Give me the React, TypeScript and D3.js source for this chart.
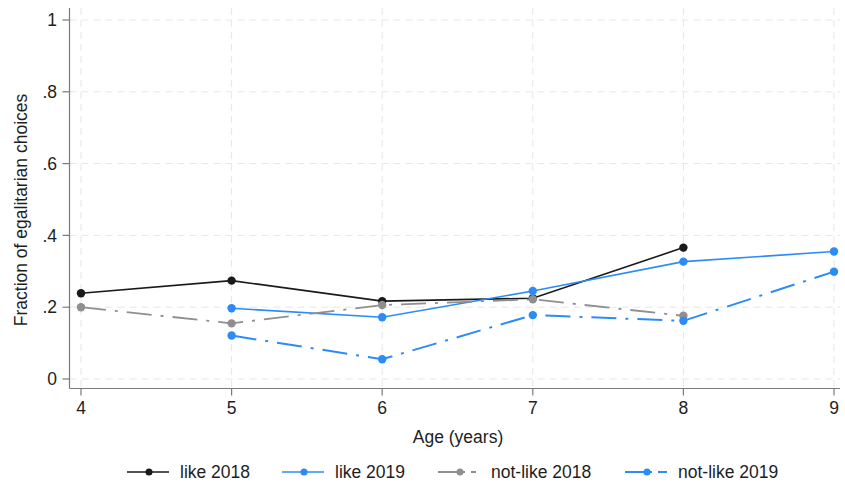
import React from "react";
import * as d3 from "d3";

// ages on x axis
const ages = [4, 5, 6, 7, 8, 9];
const yTicks = [0, 0.2, 0.4, 0.6, 0.8, 1];
const yTickLabels = ["0", ".2", ".4", ".6", ".8", "1"];

// series values (null = no point)
const like2018 = [0.239, 0.274, 0.217, 0.225, 0.366, null];
const like2019 = [null, 0.197, 0.172, 0.245, 0.327, 0.355];
const notLike2018 = [0.2, 0.155, 0.206, 0.222, 0.176, null];
const notLike2019 = [null, 0.121, 0.055, 0.178, 0.162, 0.299];

const seriesNames = ["like 2018", "like 2019", "not-like 2018", "not-like 2019"];

const BLUE = "#2b8cf7";
const series = [
  { name: seriesNames[0], values: like2018, color: "#1a1a1a", dash: null, width: 1.6, legDash: null },
  { name: seriesNames[1], values: like2019, color: BLUE, dash: null, width: 1.6, legDash: null },
  { name: seriesNames[2], values: notLike2018, color: "#8f8f8f", dash: "25,9,3,9", width: 1.8, legDash: "27,6,5,20" },
  { name: seriesNames[3], values: notLike2019, color: BLUE, dash: "25,9,3,9", width: 2, legDash: "27,6,9,20" },
];

const W = 845;
const H = 488;
const FONT = "'Liberation Sans', Arial, Helvetica, sans-serif";

export default function App() {
  const x = d3.scaleLinear().domain([4, 9]).range([81, 834]);
  const y = d3.scaleLinear().domain([0, 1]).range([379, 20]);
  const axisLeft = 69.5;
  const axisBottom = 388.5;
  const plotRight = 840;
  const plotTop = 8;

  const line = d3
    .line<number | null>()
    .defined((d) => d != null)
    .x((_, i) => x(ages[i]))
    .y((d) => y(d as number));

  // legend item positions
  const legendX = [127, 282, 438, 625];
  const legendY = 472;

  return (
    <svg
      width={W}
      height={H}
      style={{ position: "absolute", left: 0, top: 0, background: "#fff" }}
      fontFamily={FONT}
    >
      {/* grid */}
      <g stroke="#e6e6e6" strokeWidth={1} strokeDasharray="7,5">
        {yTicks.map((t) => (
          <line key={"gy" + t} x1={axisLeft} x2={plotRight} y1={y(t)} y2={y(t)} />
        ))}
        {ages.map((a) => (
          <line key={"gx" + a} x1={x(a)} x2={x(a)} y1={plotTop} y2={axisBottom} />
        ))}
      </g>

      {/* axes */}
      <g stroke="#7a7a7a" strokeWidth={1.2}>
        <line x1={axisLeft} x2={axisLeft} y1={plotTop} y2={axisBottom} />
        <line x1={axisLeft} x2={plotRight} y1={axisBottom} y2={axisBottom} />
        {yTicks.map((t) => (
          <line key={"ty" + t} x1={axisLeft - 7} x2={axisLeft} y1={y(t)} y2={y(t)} />
        ))}
        {ages.map((a) => (
          <line key={"tx" + a} x1={x(a)} x2={x(a)} y1={axisBottom} y2={axisBottom + 7} />
        ))}
      </g>

      <g fill="#1e1e1e" fontSize={17.5}>
        {yTicks.map((t, i) => (
          <text key={"ly" + t} x={57} y={y(t)} dy="0.35em" textAnchor="end">
            {yTickLabels[i]}
          </text>
        ))}
        {ages.map((a) => (
          <text key={"lx" + a} x={x(a)} y={414} textAnchor="middle">
            {a}
          </text>
        ))}
        <text x={458} y={443} textAnchor="middle">
          Age (years)
        </text>
        <text transform="translate(27,210) rotate(-90)" textAnchor="middle">
          Fraction of egalitarian choices
        </text>
      </g>

      {/* series */}
      {series.map((s) => (
        <g key={s.name}>
          <path
            d={line(s.values) || ""}
            fill="none"
            stroke={s.color}
            strokeWidth={s.width}
            strokeDasharray={s.dash || undefined}
          />
          {s.values.map((v, i) =>
            v == null ? null : (
              <circle key={i} cx={x(ages[i])} cy={y(v)} r={4.2} fill={s.color} />
            )
          )}
        </g>
      ))}

      {/* legend */}
      {series.map((s, i) => (
        <g key={"leg" + s.name} transform={`translate(${legendX[i]},${legendY})`}>
          <line
            x1={0}
            x2={42}
            y1={0}
            y2={0}
            stroke={s.color}
            strokeWidth={s.width}
            strokeDasharray={s.legDash || undefined}
          />
          <circle cx={22} cy={0} r={3.5} fill={s.color} />
          <text x={53} y={0} dy="0.35em" fontSize={17.5} fill="#1e1e1e">
            {s.name}
          </text>
        </g>
      ))}
    </svg>
  );
}
